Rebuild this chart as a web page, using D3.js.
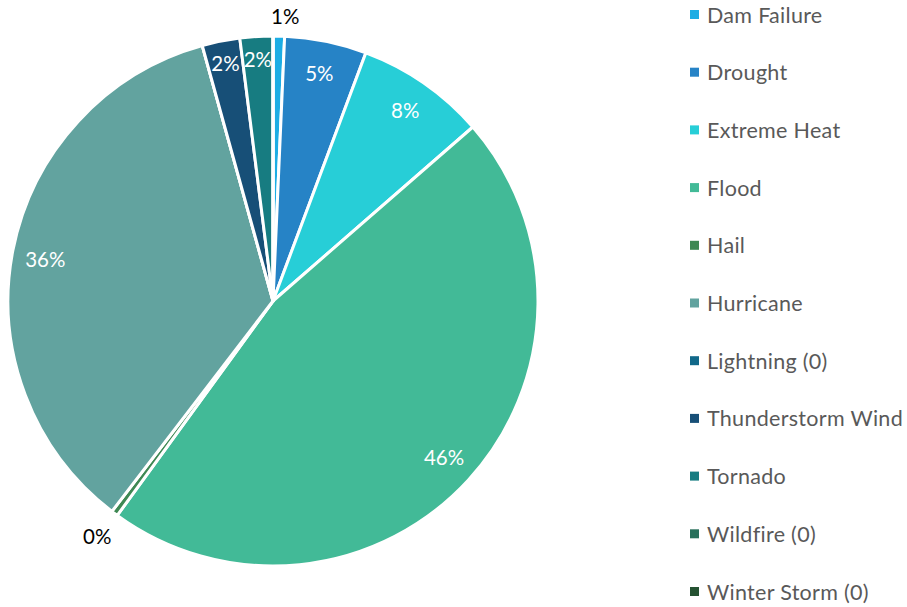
<!DOCTYPE html>
<html><head><meta charset="utf-8">
<script src="https://cdn.jsdelivr.net/npm/d3@7"></script>
<style>body{margin:0;background:#fff;}svg{display:block;}</style>
</head><body>
<svg id="c" width="907" height="607"></svg>
<script>
const categories = ["Dam Failure","Drought","Extreme Heat","Flood","Hail","Hurricane","Lightning (0)","Thunderstorm Wind","Tornado","Wildfire (0)","Winter Storm (0)"];
const values = [0.7, 5.0, 7.9, 46.4, 0.4, 35.3, 0, 2.3, 2.0, 0, 0];
const labels = ["1%","5%","8%","46%","0%","36%","","2%","2%","",""];
const colors = ["#1CADE4","#2683C6","#27CED7","#42BA97","#3E8853","#62A39F","#116889","#174F77","#177C81","#28705B","#255232"];
const outside = [true,false,false,false,true,false,false,false,false,false,false];

const svg = d3.select("#c");
const cx = 273, cy = 301, r = 265;
const g = svg.append("g").attr("transform", `translate(${cx},${cy})`);
const pie = d3.pie().sort(null).value(d => d)(values);
const arc = d3.arc().innerRadius(0).outerRadius(r);
g.selectAll("path").data(pie).join("path")
  .attr("d", arc).attr("fill", (d,i) => colors[i])
  .attr("stroke", "#fff").attr("stroke-width", 3).attr("stroke-linejoin","round");

const font = "Lato, 'Open Sans', sans-serif";
pie.forEach((d,i) => {
  if (!labels[i]) return;
  const a = (d.startAngle + d.endAngle) / 2;
  let rr = outside[i] ? (i === 4 ? 294 : 284) : 232;
  if (i === 7 || i === 8) rr = 242;
  const x = Math.sin(a) * rr + (i === 0 ? 6 : 0), y = -Math.cos(a) * rr + (i === 5 ? 3 : 0);
  g.append("text").attr("x", x).attr("y", y).attr("dy", "0.35em")
    .attr("text-anchor", "middle").attr("font-family", font).attr("font-size", 20.5)
    .attr("fill", outside[i] ? "#000" : "#fff").text(labels[i]);
});

const ly = d3.scalePoint().domain(categories).range([15, 592]);
const lg = svg.append("g");
categories.forEach((c,i) => {
  const y = ly(c);
  lg.append("rect").attr("x", 690).attr("y", y - 5).attr("width", 9).attr("height", 9).attr("fill", colors[i]);
  lg.append("text").attr("x", 707).attr("y", y).attr("dy", "0.35em")
    .attr("font-family", font).attr("font-size", 21.5).attr("letter-spacing", 0.3)
    .attr("fill", "#595959").text(c);
});
</script>
</body></html>
